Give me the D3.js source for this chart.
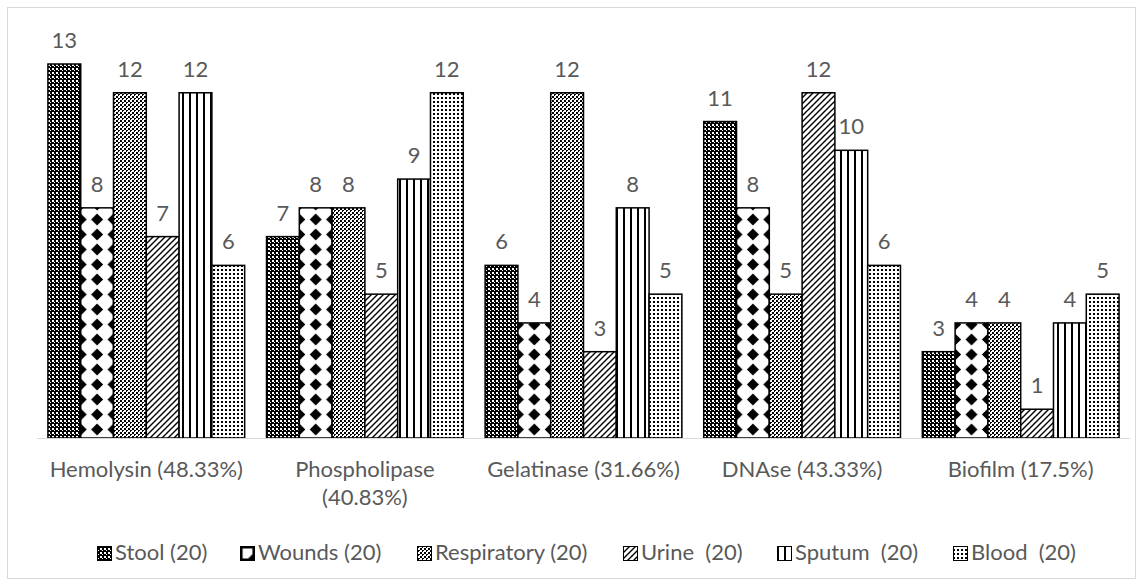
<!DOCTYPE html>
<html><head><meta charset="utf-8">
<script src="https://cdn.jsdelivr.net/npm/d3@7"></script>
<style>
body{margin:0;background:#fff;}
text{font-family:"Lato",sans-serif;fill:#595959;}
</style></head>
<body>
<svg id="c" width="1143" height="586"></svg>
<script>
const categories = ["Hemolysin (48.33%)", "Phospholipase|(40.83%)", "Gelatinase (31.66%)", "DNAse (43.33%)", "Biofilm (17.5%)"];
const seriesNames = ["Stool (20)", "Wounds (20)", "Respiratory (20)", "Urine  (20)", "Sputum  (20)", "Blood  (20)"];
const stool = [13, 7, 6, 11, 3];
const wounds = [8, 8, 4, 8, 4];
const respiratory = [12, 8, 12, 5, 4];
const urine = [7, 5, 3, 12, 1];
const sputum = [12, 9, 8, 10, 4];
const blood = [6, 12, 5, 6, 5];
const seriesValues = [stool, wounds, respiratory, urine, sputum, blood];
const patternIds = ["pStool", "pWounds", "pResp", "pUrine", "pSputum", "pBlood"];

const svg = d3.select("#c");
const defs = svg.append("defs");

// Stool: dark checker
let p = defs.append("pattern").attr("id","pStool").attr("patternUnits","userSpaceOnUse").attr("width",4).attr("height",4);
p.append("rect").attr("width",4).attr("height",4).attr("fill","#000");
p.append("rect").attr("x",0).attr("y",0).attr("width",2).attr("height",2).attr("fill","#fff");
p.append("rect").attr("x",2).attr("y",2).attr("width",1).attr("height",1).attr("fill","#fff");
// Wounds: diamonds
function woundsPattern(id, x0, w){
  const q = defs.append("pattern").attr("id",id).attr("patternUnits","userSpaceOnUse")
    .attr("x",x0).attr("y",2).attr("width",w).attr("height",15);
  q.append("rect").attr("width",w).attr("height",15).attr("fill","#fff");
  q.append("path").attr("d",`M0,1.5 L6,7.5 L0,13.5 L-6,7.5Z M${w},1.5 L${w+6},7.5 L${w},13.5 L${w-6},7.5Z`).attr("fill","#000");
}
// legend icon for wounds: white square with black lower-right corner
const wl = defs.append("pattern").attr("id","pWounds").attr("patternUnits","objectBoundingBox").attr("patternContentUnits","objectBoundingBox").attr("width",1).attr("height",1);
wl.append("rect").attr("width",1).attr("height",1).attr("fill","#000");
wl.append("path").attr("d","M0.15,0.15 L0.85,0.15 L0.85,0.55 L0.55,0.85 L0.15,0.85Z").attr("fill","#fff");
// Respiratory: checker
p = defs.append("pattern").attr("id","pResp").attr("patternUnits","userSpaceOnUse").attr("width",4).attr("height",4);
p.append("rect").attr("width",4).attr("height",4).attr("fill","#fff");
p.append("rect").attr("x",0).attr("y",0).attr("width",2).attr("height",2).attr("fill","#000");
p.append("rect").attr("x",2).attr("y",2).attr("width",2).attr("height",2).attr("fill","#000");
p.append("rect").attr("x",3).attr("y",3).attr("width",1).attr("height",1).attr("fill","#fff");
// Urine: diagonal
p = defs.append("pattern").attr("id","pUrine").attr("patternUnits","userSpaceOnUse").attr("width",6).attr("height",6);
p.append("rect").attr("width",6).attr("height",6).attr("fill","#fff");
p.append("path").attr("d","M-1,7 L7,-1 M-1,1 L1,-1 M5,7 L7,5").attr("stroke","#000").attr("stroke-width",1.4);
// Sputum: vertical lines
p = defs.append("pattern").attr("id","pSputum").attr("patternUnits","userSpaceOnUse").attr("width",7).attr("height",7);
p.append("rect").attr("width",7).attr("height",7).attr("fill","#fff");
p.append("rect").attr("x",0).attr("y",0).attr("width",2).attr("height",7).attr("fill","#000");
// Blood: dots
p = defs.append("pattern").attr("id","pBlood").attr("patternUnits","userSpaceOnUse").attr("width",4).attr("height",4);
p.append("rect").attr("width",4).attr("height",4).attr("fill","#fff");
p.append("rect").attr("x",1).attr("y",1).attr("width",2).attr("height",2).attr("fill","#000");

// outer border
svg.append("rect").attr("x",7.5).attr("y",7.5).attr("width",1128).attr("height",571)
  .attr("fill","none").attr("stroke","#d9d9d9").attr("stroke-width",1);

const x0 = d3.scaleBand().domain(categories).range([37, 1130]).paddingInner(0.1).paddingOuter(0.05);
const x1 = d3.scaleBand().domain(d3.range(seriesNames.length)).range([0, x0.bandwidth()]);
const y = d3.scaleLinear().domain([0, 13]).range([438, 64]);

const g = svg.append("g");
categories.forEach((cat, ci) => {
  seriesValues.forEach((vals, si) => {
    const v = vals[ci];
    const bx = x0(cat) + x1(si);
    let fill = `url(#${patternIds[si]})`;
    if (si === 1) { woundsPattern("pW" + ci, bx, x1.bandwidth()/2); fill = `url(#pW${ci})`; }
    g.append("rect").attr("x", bx).attr("y", y(v)).attr("width", x1.bandwidth()).attr("height", y(0) - y(v))
      .attr("fill", fill).attr("stroke", "#000").attr("stroke-width", 1.5);
    g.append("text").attr("x", bx + x1.bandwidth()/2).attr("y", y(v) - 16).attr("text-anchor","middle")
      .attr("font-size", 22).text(v);
  });
});

// axis line
svg.append("line").attr("x1",37).attr("x2",1130).attr("y1",438.5).attr("y2",438.5).attr("stroke","#d9d9d9").attr("stroke-width",1);

// category labels
categories.forEach(cat => {
  const lines = cat.split("|");
  const t = svg.append("text").attr("x", x0(cat) + x0.bandwidth()/2).attr("y", 477).attr("text-anchor","middle").attr("font-size",22);
  lines.forEach((ln, i) => t.append("tspan").attr("x", x0(cat) + x0.bandwidth()/2).attr("dy", i===0?0:28).text(ln));
});

// legend
const legX = [97, 240, 417, 623, 777, 953];
const lg = svg.append("g");
seriesNames.forEach((n, i) => {
  lg.append("rect").attr("x", legX[i] + 0.5).attr("y", 546.5).attr("width", 14).attr("height", 14)
    .attr("fill", `url(#${patternIds[i]})`).attr("stroke","#000").attr("stroke-width",1);
  lg.append("text").attr("x", legX[i] + 18).attr("y", 560).attr("font-size",22).style("white-space","pre").text(n);
});
</script>
</body></html>
